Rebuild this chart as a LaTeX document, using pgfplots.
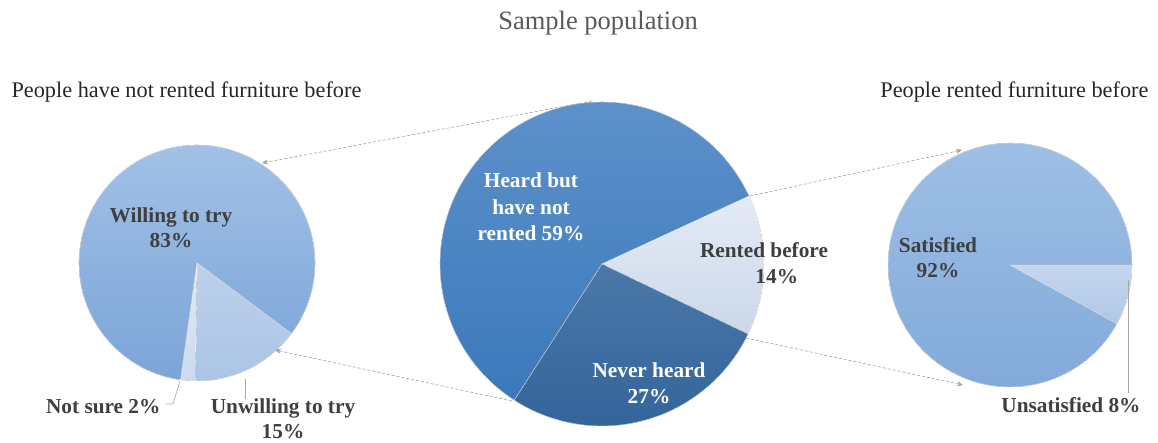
\documentclass[border=0pt]{standalone}
\usepackage{pgfplots}
\pgfplotsset{compat=1.18}
\usepackage{fontspec}
\setmainfont{Liberation Serif}
\usetikzlibrary{arrows.meta}

\definecolor{titlec}{HTML}{595959}
\definecolor{labc}{HTML}{3F3F3F}
\definecolor{leadc}{HTML}{A6A6A6}
\definecolor{arrc}{HTML}{A0A0A0}
% left pie
\definecolor{willT}{HTML}{A3C2E7}\definecolor{willB}{HTML}{7BA4D7}
\definecolor{unwT}{HTML}{BDD1EC}\definecolor{unwB}{HTML}{ABC4E6}
\definecolor{nsT}{HTML}{E0E8F4}\definecolor{nsB}{HTML}{CCDAEE}
% centre pie
\definecolor{heaT}{HTML}{5F93CB}\definecolor{heaB}{HTML}{3B78BB}
\definecolor{nevT}{HTML}{4B78A9}\definecolor{nevB}{HTML}{33649A}
\definecolor{renT}{HTML}{E4EBF5}\definecolor{renB}{HTML}{CBD8EA}
% right pie
\definecolor{satT}{HTML}{A0C1E6}\definecolor{satB}{HTML}{80A8D9}
\definecolor{unsT}{HTML}{C4D6EE}\definecolor{unsB}{HTML}{B0C7E6}

% one slice: cx, cy, radius, percentage, top colour, bottom colour
\newcommand\slice[6]{%
  \fill[top color=#5,bottom color=#6,draw=white,line width=0.3pt]
    (axis cs:#1,#2) -- ++(\curang:#3pt)
    arc[start angle=\curang, delta angle={-3.6*#4}, radius=#3pt] -- cycle;
  \pgfmathsetmacro\curang{\curang-3.6*#4}%
}

\begin{document}
\begin{tikzpicture}
\begin{axis}[
  x=1pt, y=1pt, scale only axis,
  xmin=0, xmax=1158, ymin=0, ymax=441,
  hide axis, clip=false,
]
\pgfplotsextra{%
  \path (axis cs:0,0) rectangle (axis cs:1158,441);
  % ---- left pie: people who have not rented (83, 15, 2)
  \def\curang{262}%
  \slice{197}{178}{118}{83}{willT}{willB}%
  \slice{197}{178}{118}{15}{unwT}{unwB}%
  \slice{197}{178}{118}{2}{nsT}{nsB}%
  % ---- centre pie: sample population (59, 14, 27)
  \def\curang{237.2}%
  \slice{602}{177}{162}{59}{heaT}{heaB}%
  \slice{602}{177}{162}{14}{renT}{renB}%
  \slice{602}{177}{162}{27}{nevT}{nevB}%
  % ---- right pie: people who rented (92, 8)
  \def\curang{331.2}%
  \slice{1010}{176}{122}{92}{satT}{satB}%
  \slice{1010}{176}{122}{8}{unsT}{unsB}%
  % ---- connector arrows
  \draw[arrc, densely dashed, line width=0.6pt, -{Stealth[length=6pt,width=5pt]}]
    (axis cs:592,340) -- (axis cs:262,278);
  \draw[arrc, densely dashed, line width=0.6pt, -{Stealth[length=6pt,width=5pt]}]
    (axis cs:512,40) -- (axis cs:275,91);
  \draw[arrc, densely dashed, line width=0.6pt, -{Stealth[length=6pt,width=5pt]}]
    (axis cs:750,245) -- (axis cs:962,291);
  \draw[arrc, densely dashed, line width=0.6pt, -{Stealth[length=6pt,width=5pt]}]
    (axis cs:746,103) -- (axis cs:963,56);
  % ---- leader lines
  \draw[leadc, line width=0.6pt] (axis cs:180,60) -- (axis cs:173,37) -- (axis cs:166,37);
  \draw[leadc, line width=0.6pt] (axis cs:245,62) -- (axis cs:245,42);
  \draw[leadc, line width=0.6pt] (axis cs:1128,161) -- (axis cs:1128,48);
}
% ---- titles
\node[text=titlec, font=\fontsize{26.5}{30}\selectfont] at (axis cs:598,418) {Sample population};
\node[text=black!85, anchor=west, font=\fontsize{22.3}{25}\selectfont] at (axis cs:8,349) {People have not rented furniture before};
\node[text=black!85, anchor=east, font=\fontsize{22.3}{25}\selectfont] at (axis cs:1152,349) {People rented furniture before};
% ---- slice labels
\node[text=labc, align=center, font=\bfseries\fontsize{21.3}{25}\selectfont] at (axis cs:171,213) {Willing to try\\83\%};
\node[text=labc, anchor=east, font=\bfseries\fontsize{21.3}{24}\selectfont] at (axis cs:164,34) {Not sure 2\%};
\node[text=labc, align=center, font=\bfseries\fontsize{21.3}{25}\selectfont] at (axis cs:283,22) {Unwilling to try\\15\%};
\node[text=white, align=center, font=\bfseries\fontsize{21.3}{26.5}\selectfont] at (axis cs:531,234) {Heard but\\have not\\rented 59\%};
\node[text=labc, align=center, font=\bfseries\fontsize{21.3}{25.5}\selectfont] at (axis cs:764,178) {Rented before\\\hspace*{1.2em}14\%};
\node[text=white, align=center, font=\bfseries\fontsize{21.3}{26.5}\selectfont] at (axis cs:649,58) {Never heard\\27\%};
\node[text=labc, align=center, font=\bfseries\fontsize{21.3}{25}\selectfont] at (axis cs:938,183) {Satisfied\\92\%};
\node[text=labc, font=\bfseries\fontsize{21.3}{24}\selectfont] at (axis cs:1071,36) {Unsatisfied 8\%};
\end{axis}
\end{tikzpicture}
\end{document}
